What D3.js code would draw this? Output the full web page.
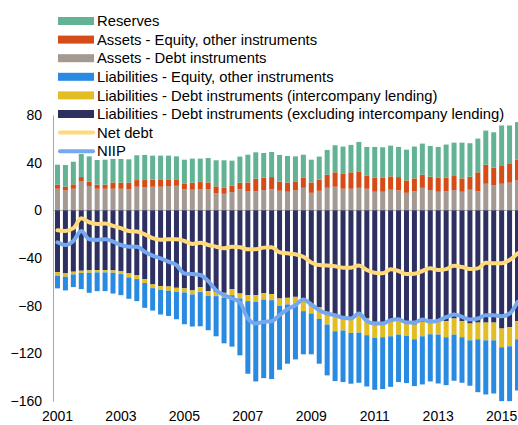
<!DOCTYPE html>
<html>
<head>
<meta charset="utf-8">
<script src="https://d3js.org/d3.v7.min.js"></script>
<style>
  body { margin: 0; background: #fff; }
  svg { display: block; font-family: "Liberation Sans", Arial, sans-serif; }
</style>
</head>
<body>
<svg width="518" height="425"></svg>
<script>
var svg = d3.select('svg');

// quarters 2001Q1 .. 2015Q3
var quarters = [];
for (var yr = 2001; yr <= 2015; yr++) {
    for (var q = 1; q <= 4; q++) {
        if (yr == 2015 && q > 3) break;
        quarters.push(yr + 'Q' + q);
    }
}
var yearTicks = ['2001Q1', '2003Q1', '2005Q1', '2007Q1', '2009Q1', '2011Q1', '2013Q1', '2015Q1'];
var yTicks = [80, 40, 0, -40, -80, -120, -160];

// assets
var assetsDebt = [18.1, 16.7, 18.1, 24.6, 20.4, 18.1, 18.1, 18.1, 18.1, 17.5, 19.8, 19.5, 19.8, 19.8, 20.4,
    20.6, 17.8, 17.3, 17.8, 17.8, 14.5, 13.9, 15.3, 17.8, 15.8, 16.1, 17.0, 17.8, 16.4, 15.6,
    16.7, 18.9, 14.7, 16.4, 18.9, 19.8, 18.1, 18.1, 18.9, 18.1, 15.6, 15.6, 17.3, 16.7, 14.7,
    16.1, 18.9, 17.0, 15.6, 16.1, 17.0, 15.6, 17.3, 16.1, 22.3, 20.9, 22.3, 23.2, 25.4];
var assetsEquity = [3.4, 3.1, 3.7, 3.3, 3.6, 3.4, 3.4, 5.3, 5.1, 5.7, 5.6, 5.9, 5.9, 6.2, 5.6,
    5.4, 4.8, 5.9, 5.9, 5.6, 5.6, 5.0, 5.6, 5.4, 7.6, 10.4, 10.4, 10.1, 7.6, 7.8,
    7.6, 8.7, 8.7, 9.3, 11.0, 12.1, 12.9, 13.8, 13.8, 11.2, 12.0, 12.0, 11.2, 11.2, 10.4,
    10.7, 11.0, 11.2, 12.0, 11.5, 11.8, 11.2, 10.9, 15.8, 16.0, 14.9, 15.5, 15.7, 17.1];
var reserves = [16.8, 18.2, 19.0, 19.4, 21.3, 20.7, 21.0, 19.7, 19.9, 19.6, 20.8, 21.1, 20.2, 19.9, 19.9,
    19.3, 19.9, 20.2, 19.7, 20.5, 21.9, 23.1, 20.8, 21.9, 23.3, 22.2, 20.7, 21.1, 22.5, 22.2,
    21.0, 19.1, 19.1, 19.4, 20.8, 22.7, 22.5, 23.0, 24.7, 23.9, 25.6, 25.3, 25.8, 25.3, 25.8,
    26.7, 26.1, 25.8, 25.6, 27.6, 28.0, 30.0, 28.1, 28.3, 28.6, 29.7, 33.4, 32.3, 31.5];

// liabilities
var liabDebtExcl = [-51.8, -52.6, -51.5, -50.7, -50.4, -50.1, -50.1, -50.4, -51.2, -52.9, -54.6, -57.7, -62.2, -63.6, -63.9,
    -65.0, -65.5, -67.2, -64.4, -67.8, -68.4, -69.2, -66.1, -69.8, -71.2, -71.2, -69.5, -70.3, -74.0, -73.4,
    -72.6, -74.0, -80.0, -81.5, -85.2, -88.0, -89.4, -90.8, -86.9, -90.8, -93.6, -94.2, -93.6, -92.2, -93.6,
    -95.9, -93.6, -91.7, -93.6, -93.0, -90.8, -93.0, -95.0, -94.2, -94.2, -94.2, -99.2, -98.1, -93.0];
var liabDebtInter = [-3.1, -3.1, -2.3, -1.9, -2.0, -2.0, -2.0, -2.0, -2.3, -3.4, -3.1, -3.3, -3.1, -3.1, -3.6,
    -3.4, -3.4, -3.4, -4.2, -3.9, -3.6, -4.2, -5.1, -4.2, -5.0, -5.6, -5.4, -5.1, -6.1, -5.6,
    -5.9, -10.6, -6.6, -9.6, -10.7, -13.5, -11.5, -12.1, -15.7, -14.0, -13.5, -12.3, -12.1, -12.1, -11.8,
    -12.3, -12.1, -12.3, -10.7, -13.5, -13.5, -13.5, -14.1, -14.0, -14.9, -14.9, -15.7, -16.0, -15.2];
var liabEquity = [-10.6, -11.5, -10.6, -13.5, -16.8, -15.7, -15.7, -17.4, -17.7, -17.9, -18.5, -20.8, -18.8, -20.7, -21.1,
    -23.0, -26.7, -26.9, -28.7, -28.9, -33.7, -38.2, -43.2, -47.7, -60.9, -66.8, -65.9, -66.2, -53.7, -49.7,
    -46.6, -36.2, -34.2, -37.6, -42.6, -41.8, -43.2, -42.6, -42.1, -43.0, -43.5, -43.5, -42.4, -39.8, -39.6,
    -39.3, -40.4, -39.6, -41.0, -40.2, -38.7, -38.2, -38.1, -44.4, -45.4, -44.6, -45.2, -46.0, -43.0];

// lines
var netDebt = [-16.7, -17.3, -15.0, -6.6, -10.0, -11.4, -11.1, -13.1, -15.0, -17.3, -17.8, -20.1, -23.4, -24.6, -24.3,
    -24.3, -25.7, -28.2, -27.1, -29.1, -30.5, -31.9, -30.5, -31.0, -32.7, -32.7, -31.3, -31.0, -35.2, -36.1,
    -36.9, -38.9, -43.7, -45.9, -46.2, -47.0, -48.1, -48.1, -46.2, -50.1, -52.4, -52.9, -49.5, -50.9, -53.5,
    -53.2, -50.9, -48.7, -50.1, -49.3, -46.5, -47.6, -49.3, -48.7, -43.9, -44.5, -44.5, -41.7, -36.1];
var niip = [-26.8, -29.1, -25.7, -17.3, -24.3, -24.8, -24.3, -26.2, -29.1, -30.5, -30.5, -34.7, -38.0, -40.3, -43.1,
    -46.0, -53.0, -53.5, -54.3, -59.4, -67.0, -71.2, -74.0, -77.3, -90.8, -95.0, -93.6, -93.0, -88.0, -83.0,
    -79.6, -74.8, -79.0, -83.8, -86.6, -88.0, -90.2, -90.8, -86.6, -93.0, -95.0, -95.0, -92.2, -91.4, -94.2,
    -94.2, -91.7, -93.6, -92.5, -89.7, -87.4, -89.4, -91.7, -90.8, -88.0, -88.0, -88.8, -86.6, -76.8];

var barKeys = ['assetsDebt', 'assetsEquity', 'reserves', 'liabDebtExcl', 'liabDebtInter', 'liabEquity'];
var colors = {
    reserves: '#62b294',
    assetsEquity: '#d64c16',
    assetsDebt: '#a49a92',
    liabEquity: '#288ae0',
    liabDebtInter: '#e2be24',
    liabDebtExcl: '#2d3060'
};
var netDebtColor = '#ffda7a';
var niipColor = '#76a8f0';

var table = quarters.map(function (qq, i) {
    return {
        q: qq,
        assetsDebt: assetsDebt[i],
        assetsEquity: assetsEquity[i],
        reserves: reserves[i],
        liabDebtExcl: liabDebtExcl[i],
        liabDebtInter: liabDebtInter[i],
        liabEquity: liabEquity[i]
    };
});

var x = d3.scaleBand()
    .domain(quarters)
    .range([53, 522])
    .paddingInner(0.37)
    .paddingOuter(0.25);

var y = d3.scaleLinear()
    .domain([-160, 80])
    .range([401, 115]);

// zero line
svg.append('line')
    .attr('x1', 53).attr('x2', 518)
    .attr('y1', y(0)).attr('y2', y(0))
    .attr('stroke', '#a6a6a6')
    .attr('stroke-width', 1);

var stacked = d3.stack()
    .keys(barKeys)
    .offset(d3.stackOffsetDiverging)(table);

svg.append('g').selectAll('g')
    .data(stacked)
    .enter()
    .append('g')
    .attr('fill', function (d) { return colors[d.key]; })
    .selectAll('rect')
    .data(function (d) { return d; })
    .enter()
    .append('rect')
    .attr('x', function (d) { return x(d.data.q); })
    .attr('width', x.bandwidth())
    .attr('y', function (d) { return y(Math.max(d[0], d[1])); })
    .attr('height', function (d) { return Math.abs(y(d[0]) - y(d[1])); });

// y axis
var yAxis = svg.append('g')
    .attr('transform', 'translate(53,0)')
    .call(d3.axisLeft(y).tickValues(yTicks).tickSize(0).tickSizeOuter(0).tickPadding(11));
yAxis.select('.domain').attr('stroke', '#a6a6a6');
yAxis.selectAll('text').attr('font-size', 14).attr('fill', '#000').attr('font-family', null);

// x axis labels
var xAxis = svg.append('g')
    .attr('transform', 'translate(0,401)')
    .call(d3.axisBottom(x).tickValues(yearTicks).tickSize(0).tickPadding(10)
        .tickFormat(function (d) { return d.slice(0, 4); }));
xAxis.select('.domain').remove();
xAxis.selectAll('text').attr('font-size', 14).attr('fill', '#000').attr('font-family', null);

// lines
var line = function (vals) {
    return d3.line()
        .x(function (d, i) { return x(quarters[i]) + x.bandwidth() / 2; })
        .y(function (d) { return y(d); })
        .curve(d3.curveMonotoneX)(vals);
};

svg.append('path')
    .attr('d', line(netDebt))
    .attr('fill', 'none')
    .attr('stroke', netDebtColor)
    .attr('stroke-width', 4)
    .attr('stroke-linejoin', 'round')
    .attr('stroke-linecap', 'round');

svg.append('path')
    .attr('d', line(niip))
    .attr('fill', 'none')
    .attr('stroke', niipColor)
    .attr('stroke-width', 4)
    .attr('stroke-linejoin', 'round')
    .attr('stroke-linecap', 'round');

// legend
var legendItems = [
    {label: 'Reserves', color: colors.reserves, type: 'bar'},
    {label: 'Assets - Equity, other instruments', color: colors.assetsEquity, type: 'bar'},
    {label: 'Assets - Debt instruments', color: colors.assetsDebt, type: 'bar'},
    {label: 'Liabilities - Equity, other instruments', color: colors.liabEquity, type: 'bar'},
    {label: 'Liabilities - Debt instruments (intercompany lending)', color: colors.liabDebtInter, type: 'bar'},
    {label: 'Liabilities - Debt instruments (excluding intercompany lending)', color: colors.liabDebtExcl, type: 'bar'},
    {label: 'Net debt', color: netDebtColor, type: 'line'},
    {label: 'NIIP', color: niipColor, type: 'line'}
];

var legend = svg.append('g').selectAll('g')
    .data(legendItems)
    .enter()
    .append('g')
    .attr('transform', function (d, i) { return 'translate(0,' + (21 + i * 18.6) + ')'; });

legend.filter(function (d) { return d.type == 'bar'; })
    .append('rect')
    .attr('x', 58).attr('y', -4)
    .attr('width', 36).attr('height', 8)
    .attr('fill', function (d) { return d.color; });

legend.filter(function (d) { return d.type == 'line'; })
    .append('line')
    .attr('x1', 60).attr('x2', 93)
    .attr('y1', 0).attr('y2', 0)
    .attr('stroke', function (d) { return d.color; })
    .attr('stroke-width', 4)
    .attr('stroke-linecap', 'round');

legend.append('text')
    .attr('x', 97)
    .attr('y', 0)
    .attr('dy', '0.35em')
    .attr('font-size', 14.8)
    .attr('fill', '#000')
    .text(function (d) { return d.label; });
</script>
</body>
</html>
